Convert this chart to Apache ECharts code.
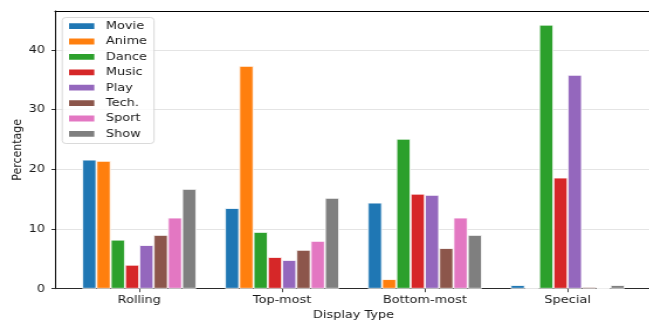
<!DOCTYPE html>
<html>
<head>
<meta charset="utf-8">
<script src="https://cdn.jsdelivr.net/npm/echarts@6/dist/echarts.min.js"></script>
<style>
  html, body { margin: 0; padding: 0; background: #fff; overflow: hidden; }
  #wrap { width: 649px; height: 320px; overflow: hidden; }
  /* the figure is laid out narrower and stretched horizontally, like the printed plot */
  #chart { width: 555px; height: 320px; transform: scaleX(1.17); transform-origin: 0 0; }
</style>
</head>
<body>
<div id="wrap"><div id="chart"></div></div>
<script>
const categories = ['Rolling', 'Top-most', 'Bottom-most', 'Special'];
const seriesNames = ['Movie', 'Anime', 'Dance', 'Music', 'Play', 'Tech.', 'Sport', 'Show'];

const movie = [21.6, 13.5, 14.4, 0.6];
const anime = [21.4, 37.3, 1.6, 0];
const dance = [8.2, 9.5, 25.1, 44.2];
const music = [4.0, 5.3, 15.9, 18.6];
const play  = [7.3, 4.8, 15.7, 35.8];
const tech  = [9.0, 6.5, 6.8, 0.3];
const sport = [11.9, 8.0, 11.9, 0.1];
const show  = [16.7, 15.2, 9.0, 0.6];

const yTicks = [0, 10, 20, 30, 40];
const yMax = 46.5;

const palette = ['#1f77b4', '#ff7f0e', '#2ca02c', '#d62728', '#9467bd', '#8c564b', '#e377c2', '#7f7f7f'];
const values = [movie, anime, dance, music, play, tech, sport, show];

const FONT = 'DejaVu Sans';
const FS = 11;
const TXT = '#1a1a1a';

const chart = echarts.init(document.getElementById('chart'), null, { renderer: 'canvas' });

chart.setOption({
  animation: false,
  backgroundColor: '#fff',
  textStyle: { fontFamily: FONT, fontSize: FS, color: TXT },
  color: palette,
  grid: [
    // frame: spines, y ticks, grid lines
    { left: 47.0, top: 11, width: 510.3, bottom: 31.3, containLabel: false, outerBoundsMode: 'none' },
    // bars: one band per display type
    { left: 58.0, top: 11, width: 488.2, bottom: 31.3, containLabel: false, outerBoundsMode: 'none' }
  ],
  legend: {
    orient: 'vertical',
    left: 53.2,
    top: 17.5,
    data: seriesNames,
    itemWidth: 23.6,
    itemHeight: 7.8,
    itemGap: 3.2,
    icon: 'rect',
    backgroundColor: 'rgba(255,255,255,0.8)',
    borderColor: '#d0d0d0',
    borderWidth: 0.8,
    borderRadius: 3,
    padding: [2.5, 6, 3.5, 3.8],
    textStyle: { fontFamily: FONT, fontSize: FS, color: TXT, lineHeight: 12.2, padding: [0, 0, 0, 4] },
    selectedMode: false
  },
  xAxis: [
    {
      gridIndex: 0, type: 'value', min: 0, max: 1, position: 'bottom',
      axisLine: { show: true, lineStyle: { color: '#2a2a2a', width: 1 } },
      axisTick: { show: false }, axisLabel: { show: false }, splitLine: { show: false },
      name: 'Display Type', nameLocation: 'middle', nameGap: 21, nameMoveOverlap: false,
      nameTextStyle: { fontFamily: FONT, fontSize: FS, color: TXT }
    },
    {
      gridIndex: 0, type: 'value', min: 0, max: 1, position: 'top',
      axisLine: { show: true, lineStyle: { color: '#000', width: 1 } },
      axisTick: { show: false }, axisLabel: { show: false }, splitLine: { show: false }
    },
    {
      gridIndex: 1, type: 'category', data: categories, position: 'bottom',
      axisLine: { show: false },
      axisTick: { show: true, alignWithLabel: true, length: 3.5, lineStyle: { color: '#333', width: 0.9 } },
      axisLabel: { margin: 5.5, fontFamily: FONT, fontSize: FS, color: TXT },
      splitLine: { show: false }
    }
  ],
  yAxis: [
    {
      gridIndex: 0, type: 'value', min: 0, max: yMax, interval: 10,
      axisLine: { show: true, lineStyle: { color: '#000', width: 1 } },
      axisTick: { show: true, length: 3.0, customValues: yTicks, lineStyle: { color: '#333', width: 1 } },
      axisLabel: { margin: 8.5, customValues: yTicks, fontFamily: FONT, fontSize: FS, color: TXT },
      splitLine: { show: true, lineStyle: { color: '#e4e4e4', width: 1 } },
      name: 'Percentage', nameLocation: 'middle', nameGap: 26, nameMoveOverlap: false,
      nameTextStyle: { fontFamily: FONT, fontSize: FS, color: TXT }
    },
    {
      gridIndex: 1, type: 'value', min: 0, max: yMax,
      show: false, splitLine: { show: false }
    }
  ],
  series: seriesNames.map((name, i) => ({
    name: name,
    type: 'bar',
    xAxisIndex: 2,
    yAxisIndex: 1,
    data: values[i],
    barGap: '0%',
    barCategoryGap: '20%',
    itemStyle: { color: palette[i], borderColor: '#ffffff', borderWidth: 0.8 }
  }))
});
</script>
</body>
</html>
